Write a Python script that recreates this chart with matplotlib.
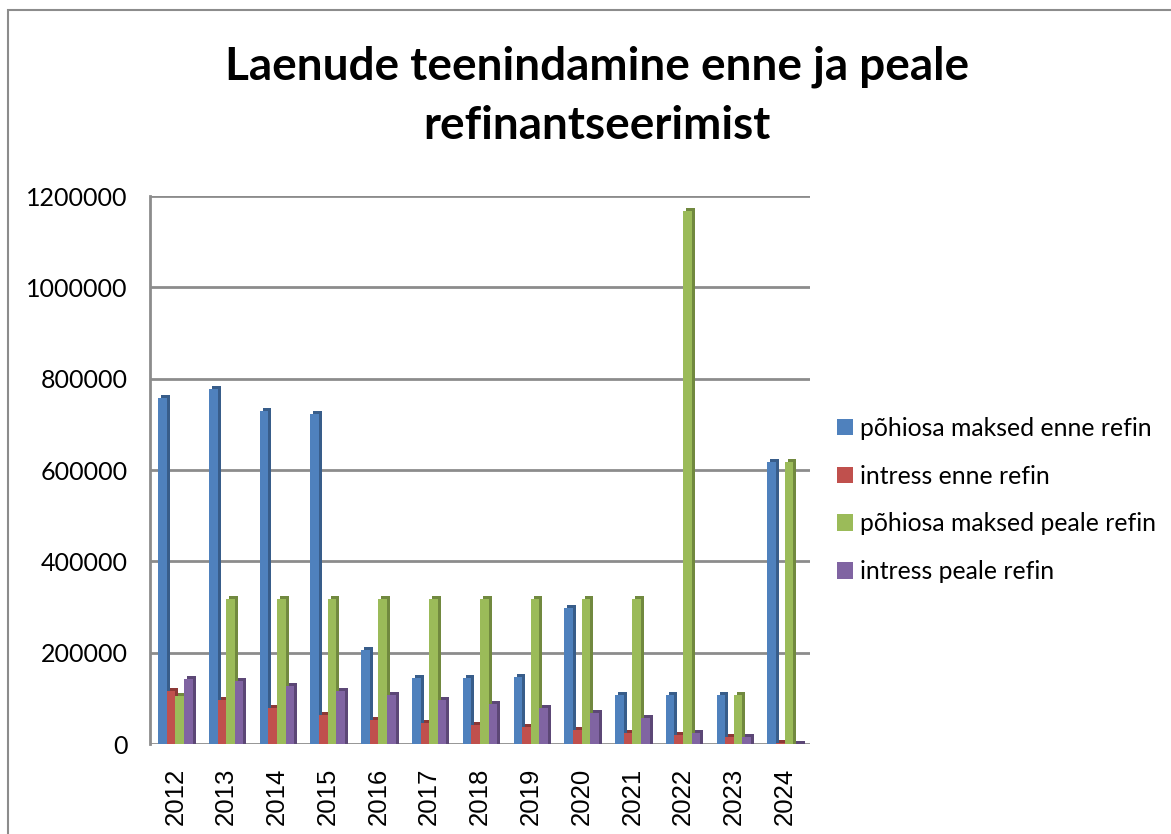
import numpy as np
import matplotlib
matplotlib.use("Agg")
import matplotlib.pyplot as plt
import matplotlib.transforms as mtransforms
from matplotlib.patches import Rectangle

# data
years = ["2012", "2013", "2014", "2015", "2016", "2017", "2018",
         "2019", "2020", "2021", "2022", "2023", "2024"]
pohiosa_enne = [757000, 777000, 730000, 722000, 206000, 145000, 145000,
                146000, 297000, 107000, 107000, 107000, 617000]
intress_enne = [115000, 96000, 79000, 63000, 52000, 47000, 42000,
                38000, 30000, 23000, 20000, 16000, 3000]
pohiosa_peale = [106000, 318000, 318000, 318000, 318000, 318000, 318000,
                 318000, 318000, 318000, 1167000, 107000, 617000]
intress_peale = [143000, 137000, 127000, 117000, 107000, 97000, 88000,
                 79000, 68000, 58000, 23000, 16000, 1000]

series = [
    ("põhiosa maksed enne refin", pohiosa_enne, "#4F81BD", "#385D8A"),
    ("intress enne refin", intress_enne, "#C0504D", "#8C3836"),
    ("põhiosa maksed peale refin", pohiosa_peale, "#9BBB59", "#71893F"),
    ("intress peale refin", intress_peale, "#8064A2", "#5C4776"),
]

title = "Laenude teenindamine enne ja peale\nrefinantseerimist"

W, H = 1171, 834
fig = plt.figure(figsize=(W / 100, H / 100), dpi=100)

# chart area border (cut at right/bottom like the screenshot)
fig.add_artist(Rectangle((8 / W, -0.1), 1.2, 1.1 - 10 / H, transform=fig.transFigure,
                         fill=False, edgecolor="#8C8C8C", linewidth=1.5))

ax = fig.add_axes([150 / W, 1 - 744 / H, 660 / W, (744 - 196) / H])
ax.set_xlim(-0.5, len(years) - 0.5)
ax.set_ylim(0, 1200000)

x = np.arange(len(years))
bw = 0.17
offsets = [-1.5 * bw, -0.5 * bw, 0.5 * bw, 1.5 * bw]

# fake 3D: dark copy shifted right/up behind each bar, bottom pushed down
# by the same amount so it sits on the floor
depth = 3
shade = mtransforms.offset_copy(ax.transData, fig=fig, x=depth, y=depth, units="dots")
px_val = 1200000 / (744 - 196)
for (name, vals, col, dark), off in zip(series, offsets):
    ax.bar(x + off, np.array(vals) + depth * px_val, bottom=-depth * px_val,
           width=bw, color=dark, transform=shade, zorder=2, clip_on=False)
    ax.bar(x + off, vals, width=bw, color=col, label=name, zorder=3)

# gridlines
for yv in range(0, 1200001, 200000):
    ax.axhline(yv, color="#8C8C8C", linewidth=2, zorder=1)

for side in ["top", "right", "bottom"]:
    ax.spines[side].set_visible(False)
ax.spines["left"].set_color("#8C8C8C")
ax.spines["left"].set_linewidth(2)

ax.set_yticks(range(0, 1200001, 200000))
ax.set_yticklabels([str(v) for v in range(0, 1200001, 200000)],
                   fontname="Lato", fontsize=18)
ax.tick_params(axis="y", length=0, pad=16)
ax.set_xticks(x)
ax.set_xticklabels(years, rotation=90, fontname="Liberation Sans", fontsize=18.5)
ax.tick_params(axis="x", length=0, pad=17)

fig.text(597 / W, 1 - 96 / H, title, ha="center", va="center",
         fontname="Lato", fontweight="bold", fontsize=33, linespacing=1.5)

leg = ax.legend(loc="center left", bbox_to_anchor=(815 / W, 1 - 500 / H),
                bbox_transform=fig.transFigure, frameon=False,
                prop={"family": "Lato", "size": 17.8},
                handlelength=0.65, handleheight=0.65, handletextpad=0.25,
                labelspacing=1.0)

fig.savefig("out.png", dpi=100)
